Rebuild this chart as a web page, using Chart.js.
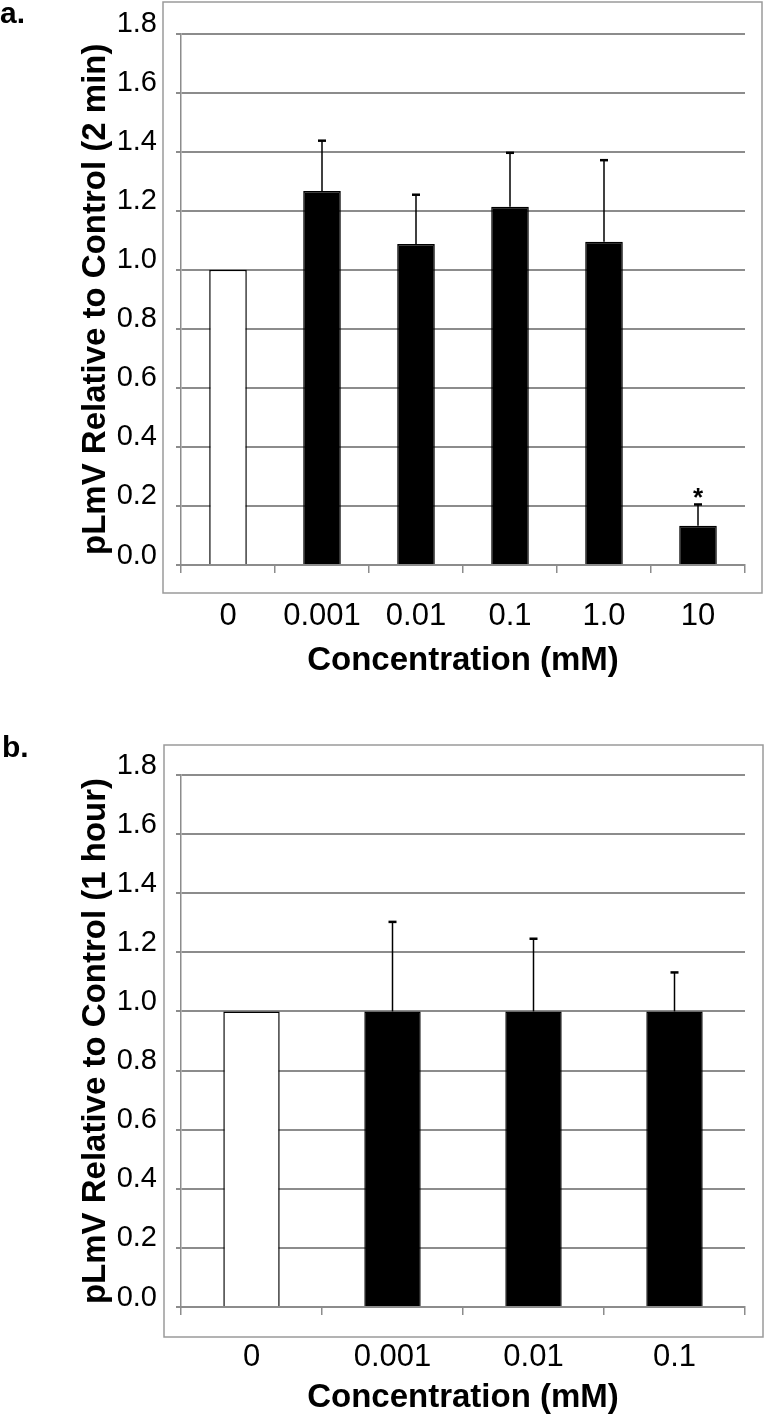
<!DOCTYPE html>
<html>
<head>
<meta charset="utf-8">
<script src="https://cdn.jsdelivr.net/npm/chart.js@4.4.1/dist/chart.umd.min.js"></script>
<style>
  body { margin: 0; background: #fff; }
  .panel { position: relative; width: 765px; }
  .tag { position: absolute; font: bold 30px "Liberation Sans", Arial, sans-serif; line-height: 30px; color: #000; }
  canvas { display: block; }
</style>
</head>
<body>
<div class="panel" style="height:700px">
  <div class="tag" style="left:0; top:-2px">a.</div>
  <canvas id="chartA" width="765" height="700"></canvas>
</div>
<div class="panel" style="height:716px">
  <div class="tag" style="left:2px; top:32px">b.</div>
  <canvas id="chartB" width="765" height="716"></canvas>
</div>
<script>
const fontFamily = '"Liberation Sans", Arial, sans-serif';
const gridGray = '#8c8c8c';

// panel a: 2 min exposure
const concA = ['0', '0.001', '0.01', '0.1', '1.0', '10'];
const meanA = [1.0, 1.267, 1.087, 1.213, 1.095, 0.133];
const errA = [0, 0.17, 0.167, 0.183, 0.276, 0.072];
const sigA = ['', '', '', '', '', '*'];

// panel b: 1 hour exposure
const concB = ['0', '0.001', '0.01', '0.1'];
const meanB = [1.0, 1.0, 1.0, 1.0];
const errB = [0, 0.303, 0.246, 0.132];
const sigB = ['', '', '', ''];

const yTicks = [0, 0.2, 0.4, 0.6, 0.8, 1.0, 1.2, 1.4, 1.6, 1.8];

// outer grey frame around each panel
const frameBox = {
    id: 'frameBox',
    beforeDraw(chart, args, opts) {
        const ctx = chart.ctx;
        ctx.save();
        ctx.strokeStyle = '#9a9a9a';
        ctx.lineWidth = 1.5;
        ctx.strokeRect(opts.left, opts.top, opts.right - opts.left, opts.bottom - opts.top);
        ctx.restore();
    }
};

// upper error bars + significance marks
const errorBars = {
    id: 'errorBars',
    afterDatasetsDraw(chart, args, opts) {
        const ctx = chart.ctx;
        const y = chart.scales.y;
        const vals = chart.data.datasets[0].data;
        const meta = chart.getDatasetMeta(0);
        ctx.save();
        ctx.strokeStyle = '#000';
        ctx.fillStyle = '#000';
        meta.data.forEach((bar, i) => {
            const e = opts.errors[i];
            if (!e) return;
            const top = y.getPixelForValue(vals[i] + e);
            ctx.lineWidth = 1.5;
            ctx.beginPath();
            ctx.moveTo(bar.x, bar.y);
            ctx.lineTo(bar.x, top);
            ctx.stroke();
            ctx.lineWidth = 2.5;
            ctx.beginPath();
            ctx.moveTo(bar.x - 4, top);
            ctx.lineTo(bar.x + 4, top);
            ctx.stroke();
            if (opts.marks[i]) {
                ctx.font = 'bold 26px ' + fontFamily;
                ctx.textAlign = 'center';
                ctx.textBaseline = 'alphabetic';
                ctx.fillText(opts.marks[i], bar.x, top + 2);
            }
        });
        ctx.restore();
    }
};

function makeChart(id, labels, means, errors, marks, yTitle, opt) {
    const ctx = document.getElementById(id).getContext('2d');
    return new Chart(ctx, {
        type: 'bar',
        data: {
            labels: labels,
            datasets: [{
                data: means,
                backgroundColor: labels.map((l, i) => i === 0 ? '#ffffff' : '#000000'),
                borderColor: '#000',
                borderWidth: 1.5,
                barPercentage: 0.4,
                categoryPercentage: 1.0
            }]
        },
        options: {
            responsive: false,
            animation: false,
            devicePixelRatio: 1,
            layout: { padding: { left: 0, right: 20, top: opt.padTop, bottom: 0 } },
            scales: {
                x: {
                    offset: true,
                    grid: {
                        display: true,
                        offset: true,
                        drawOnChartArea: false,
                        drawTicks: true,
                        tickLength: 8,
                        color: gridGray,
                        lineWidth: 1.5
                    },
                    border: { display: true, color: gridGray, width: 2 },
                    ticks: {
                        color: '#000',
                        font: { family: fontFamily, size: 31, lineHeight: 1 },
                        padding: opt.xTickPad,
                        maxRotation: 0,
                        autoSkip: false
                    },
                    title: {
                        display: true,
                        text: 'Concentration (mM)',
                        color: '#000',
                        font: { family: fontFamily, size: 33, weight: 'bold', lineHeight: 1 },
                        padding: { top: 0, bottom: opt.xTitlePad }
                    },
                    afterFit: s => { s.height = opt.xHeight; }
                },
                y: {
                    min: 0,
                    max: 1.8,
                    afterBuildTicks: s => { s.ticks = yTicks.map(v => ({ value: v })); },
                    grid: { color: gridGray, lineWidth: 2, tickLength: 5 },
                    border: { display: true, color: gridGray, width: 1.5 },
                    ticks: {
                        color: '#000',
                        font: { family: fontFamily, size: 29, lineHeight: 1 },
                        padding: 19,
                        labelOffset: -9.5,
                        callback: v => Number(v).toFixed(1)
                    },
                    title: {
                        display: true,
                        text: yTitle,
                        color: '#000',
                        font: { family: fontFamily, size: 33, weight: 'bold', lineHeight: 1 },
                        padding: { top: 79.5, bottom: 0 }
                    },
                    afterFit: s => { s.width = 181; }
                }
            },
            plugins: {
                legend: { display: false },
                tooltip: { enabled: false },
                frameBox: opt.frame,
                errorBars: { errors: errors, marks: marks }
            }
        },
        plugins: [frameBox, errorBars]
    });
}

const chartA = makeChart('chartA', concA, meanA, errA, sigA,
    'pLmV Relative to Control (2 min)',
    { padTop: 32, xHeight: 135, xTickPad: 28, xTitlePad: 22.5,
      frame: { left: 163, top: 2, right: 762, bottom: 593 } });

const chartB = makeChart('chartB', concB, meanB, errB, sigB,
    'pLmV Relative to Control (1 hour)',
    { padTop: 75, xHeight: 109, xTickPad: 26.5, xTitlePad: 1.5,
      frame: { left: 164, top: 45, right: 763, bottom: 637 } });
</script>
</body>
</html>
